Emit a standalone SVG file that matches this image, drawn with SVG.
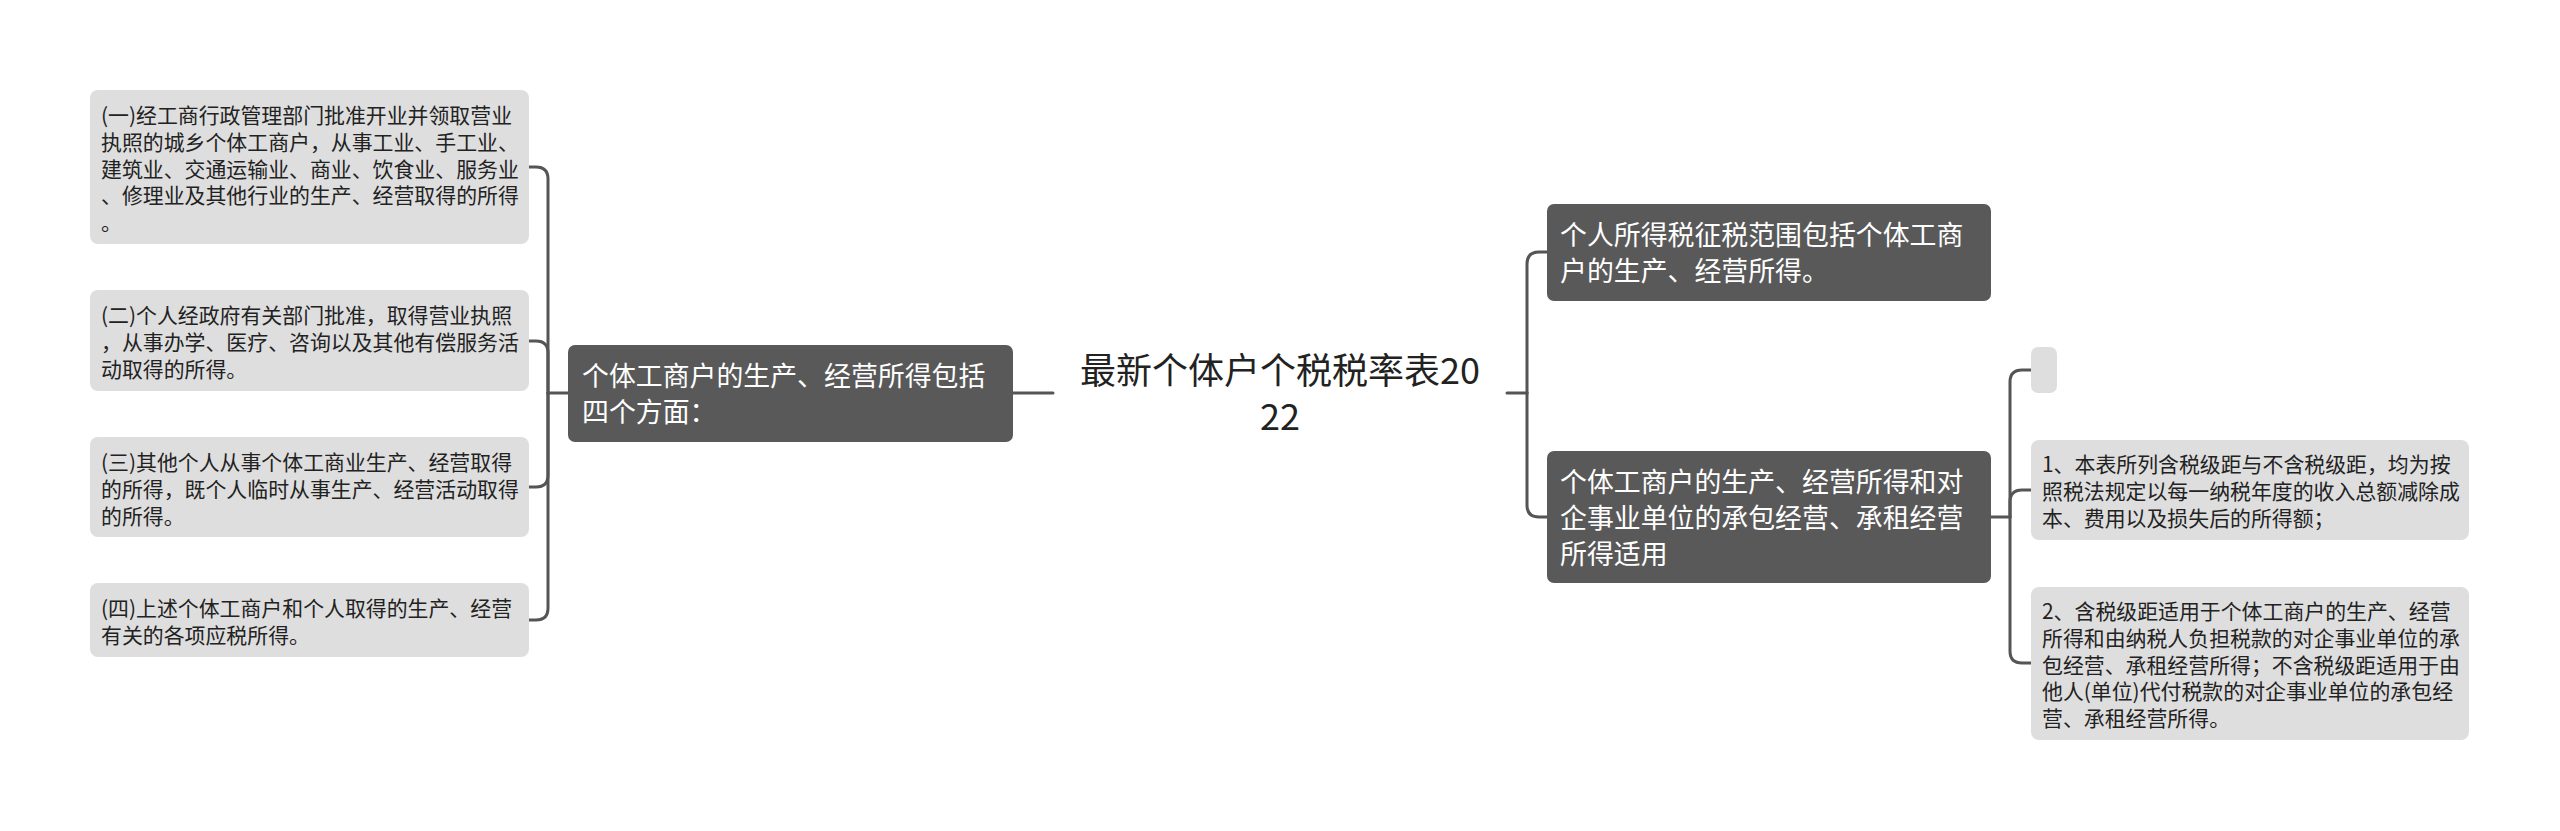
<svg xmlns="http://www.w3.org/2000/svg" width="2560" height="831" viewBox="0 0 2560 831">
<style>
.leaf{fill:#dedede}
.main{fill:#595959}
.lt{font-family:"Noto Sans CJK SC","Liberation Sans",sans-serif;font-size:20.9px;fill:#222}
.mt{font-family:"Noto Sans CJK SC","Liberation Sans",sans-serif;font-size:26.9px;fill:#ffffff}
.tt{font-family:"Noto Sans CJK SC","Liberation Sans",sans-serif;font-size:36px;fill:#222;text-anchor:middle}
.ln{fill:none;stroke:#555;stroke-width:3;stroke-linecap:round}
</style>
<rect width="2560" height="831" fill="#ffffff"/>
<g id="connectors">
<path class="ln" d="M1013,393 H1053"/>
<path class="ln" d="M1507,393 H1527"/>
<path class="ln" d="M568,393 H548"/>
<path class="ln" d="M548,393 V179 Q548,167 536,167 H529"/>
<path class="ln" d="M548,393 V353 Q548,341 536,341 H529"/>
<path class="ln" d="M548,393 V475 Q548,487 536,487 H529"/>
<path class="ln" d="M548,393 V608 Q548,620 536,620 H529"/>
<path class="ln" d="M1527,393 V264 Q1527,252 1539,252 H1547"/>
<path class="ln" d="M1527,393 V505 Q1527,517 1539,517 H1547"/>
<path class="ln" d="M1991,517 H2010"/>
<path class="ln" d="M2010,517 V382 Q2010,370 2022,370 H2031"/>
<path class="ln" d="M2010,517 V502 Q2010,490 2022,490 H2031"/>
<path class="ln" d="M2010,517 V651 Q2010,663 2022,663 H2031"/>
</g>
<g id="root">
<text class="tt"><tspan x="1280" y="384">最新个体户个税税率表20</tspan><tspan x="1280" y="430">22</tspan></text>
</g>
<g id="left-main">
<rect class="main" x="568" y="345" width="445" height="97" rx="7"/>
<text class="mt" x="582" y="386">个体工商户的生产、经营所得包括</text>
<text class="mt" x="582" y="422">四个方面：</text>
</g>
<g id="left-1">
<rect class="leaf" x="90" y="90" width="439" height="154" rx="8"/>
<text class="lt" x="101" y="123">(一)经工商行政管理部门批准开业并领取营业</text>
<text class="lt" x="101" y="149.8">执照的城乡个体工商户，从事工业、手工业、</text>
<text class="lt" x="101" y="176.6">建筑业、交通运输业、商业、饮食业、服务业</text>
<text class="lt" x="101" y="203.4">、修理业及其他行业的生产、经营取得的所得</text>
<text class="lt" x="101" y="230.2">。</text>
</g>
<g id="left-2">
<rect class="leaf" x="90" y="290" width="439" height="101" rx="8"/>
<text class="lt" x="101" y="323">(二)个人经政府有关部门批准，取得营业执照</text>
<text class="lt" x="101" y="349.8">，从事办学、医疗、咨询以及其他有偿服务活</text>
<text class="lt" x="101" y="376.6">动取得的所得。</text>
</g>
<g id="left-3">
<rect class="leaf" x="90" y="437" width="439" height="100" rx="8"/>
<text class="lt" x="101" y="470">(三)其他个人从事个体工商业生产、经营取得</text>
<text class="lt" x="101" y="496.8">的所得，既个人临时从事生产、经营活动取得</text>
<text class="lt" x="101" y="523.6">的所得。</text>
</g>
<g id="left-4">
<rect class="leaf" x="90" y="583" width="439" height="74" rx="8"/>
<text class="lt" x="101" y="616">(四)上述个体工商户和个人取得的生产、经营</text>
<text class="lt" x="101" y="642.8">有关的各项应税所得。</text>
</g>
<g id="right-1">
<rect class="main" x="1547" y="204" width="444" height="97" rx="7"/>
<text class="mt" x="1560" y="245">个人所得税征税范围包括个体工商</text>
<text class="mt" x="1560" y="281">户的生产、经营所得。</text>
</g>
<g id="right-2">
<rect class="main" x="1547" y="451" width="444" height="132" rx="7"/>
<text class="mt" x="1560" y="492">个体工商户的生产、经营所得和对</text>
<text class="mt" x="1560" y="528">企事业单位的承包经营、承租经营</text>
<text class="mt" x="1560" y="564">所得适用</text>
</g>
<g id="right-empty">
<rect class="leaf" x="2031" y="347" width="26" height="46" rx="7"/>
</g>
<g id="right-leaf-1">
<rect class="leaf" x="2031" y="440" width="438" height="100" rx="8"/>
<text class="lt" x="2042" y="472">1、本表所列含税级距与不含税级距，均为按</text>
<text class="lt" x="2042" y="498.8">照税法规定以每一纳税年度的收入总额减除成</text>
<text class="lt" x="2042" y="525.6">本、费用以及损失后的所得额；</text>
</g>
<g id="right-leaf-2">
<rect class="leaf" x="2031" y="587" width="438" height="153" rx="8"/>
<text class="lt" x="2042" y="619">2、含税级距适用于个体工商户的生产、经营</text>
<text class="lt" x="2042" y="645.8">所得和由纳税人负担税款的对企事业单位的承</text>
<text class="lt" x="2042" y="672.6">包经营、承租经营所得；不含税级距适用于由</text>
<text class="lt" x="2042" y="699.4">他人(单位)代付税款的对企事业单位的承包经</text>
<text class="lt" x="2042" y="726.2">营、承租经营所得。</text>
</g>
</svg>
